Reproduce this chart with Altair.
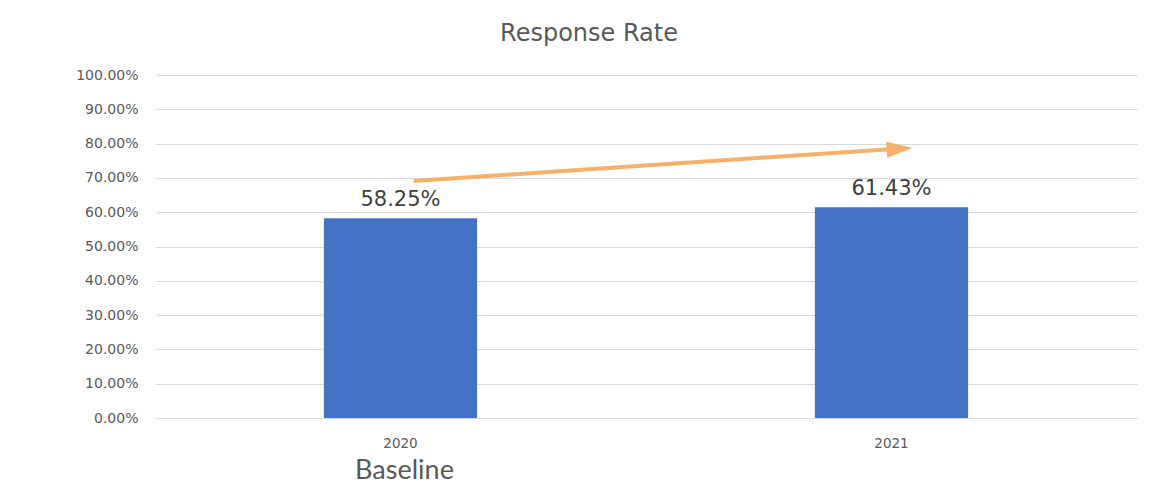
import altair as alt
import pandas as pd

years = ["2020", "2021"]
rates = [0.5825, 0.6143]
labels = ["58.25%", "61.43%"]
y_ticks = [0.0, 0.1, 0.2, 0.3, 0.4, 0.5, 0.6, 0.7, 0.8, 0.9, 1.0]

# arrow annotation (x in category units: 0.5 = centre of 2020, 1.5 = centre of 2021)
arrow_x = [0.527, 1.52]
arrow_y = [0.691, 0.786]
head_x = [1.543]
head_y = [0.787]

bars_df = pd.DataFrame({"year": years, "rate": rates, "label": labels})
arrow_df = pd.DataFrame({"ax": [arrow_x[0]], "ax2": [arrow_x[1]], "ay": [arrow_y[0]], "ay2": [arrow_y[1]]})
head_df = pd.DataFrame({"hx": head_x, "hy": head_y})

FONT = "DejaVu Sans"
TXT = "#595959"

x_enc = alt.X(
    "year:N",
    scale=alt.Scale(paddingInner=0.688, paddingOuter=0.344),
    axis=alt.Axis(
        title="Baseline", titleX=249, titleY=60, titleBaseline="alphabetic",
        titleFontSize=27, titleFontWeight="normal", titleColor=TXT, titleFont="Lato",
        labelAngle=0, labelFontSize=13.5, labelColor=TXT, labelFont=FONT, labelPadding=18,
        ticks=False, domain=False,
    ),
)
y_enc = alt.Y(
    "rate:Q",
    scale=alt.Scale(domain=[0, 1]),
    axis=alt.Axis(
        title=None, format=".2%", values=y_ticks, tickCount=20, labelOverlap=False,
        labelFontSize=14, labelColor=TXT, labelFont=FONT, labelPadding=17,
        ticks=False, domain=False, grid=True, gridColor="#d9d9d9", gridWidth=1,
    ),
)

bars = alt.Chart(bars_df).mark_bar(color="#4472C4").encode(x=x_enc, y=y_enc)
text = alt.Chart(bars_df).mark_text(
    baseline="alphabetic", dy=-12, fontSize=21, font=FONT, color="#404040"
).encode(x=x_enc, y=y_enc, text="label:N")

xq = alt.Scale(domain=[0, 2])
yq = alt.Scale(domain=[0, 1])
arrow = alt.Chart(arrow_df).mark_rule(color="#F4B169", strokeWidth=4).encode(
    x=alt.X("ax:Q", scale=xq, axis=None),
    x2="ax2:Q",
    y=alt.Y("ay:Q", scale=yq, axis=None),
    y2="ay2:Q",
)
head = alt.Chart(head_df).mark_point(
    shape="M0,0L-2,-0.62L-2,0.62Z", size=676, filled=True, opacity=1,
    color="#F4B169", angle=356.2,
).encode(
    x=alt.X("hx:Q", scale=xq, axis=None),
    y=alt.Y("hy:Q", scale=yq, axis=None),
)

main = alt.layer(bars, text)
ann = alt.layer(arrow, head)

chart = alt.layer(main, ann).resolve_scale(x="independent", y="independent").resolve_axis(
    x="independent", y="independent"
).properties(
    width=982,
    height=343,
    autosize=alt.AutoSizeParams(type="none"),
    padding={"left": 147, "top": 67, "right": 9, "bottom": 75},
    background="white",
    title=alt.TitleParams(
        "Response Rate", fontSize=24, font=FONT, fontWeight="normal", color=TXT,
        anchor="middle", dx=-57, offset=3, baseline="alphabetic", frame="group",
    ),
).configure_view(stroke=None)

chart.save("out.html", embed_options={"renderer": "svg", "actions": False})
